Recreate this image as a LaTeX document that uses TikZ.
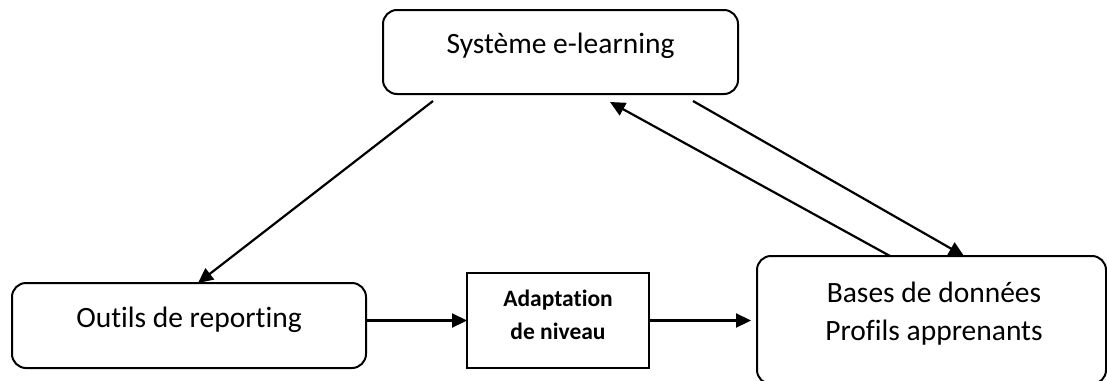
\documentclass[tikz,border=0pt]{standalone}
\usepackage{fontspec}
\setmainfont{Carlito}[Ligatures=NoCommon]
\usetikzlibrary{arrows.meta,calc}
\begin{document}
\begin{tikzpicture}[x=1pt,y=-1pt,
  box/.style={draw, line width=2pt, inner sep=0pt, outer sep=0pt},
  rbox/.style={box, rounded corners=14pt},
  lbl/.style={font=\fontsize{29.5}{39}\selectfont, anchor=base, inner sep=0pt},
  blbl/.style={font=\fontsize{23.5}{35}\selectfont\bfseries, anchor=base, inner sep=0pt},
  arr/.style={line width=2.2pt, -{Triangle[length=15pt,width=14pt]}}]
\path[use as bounding box, clip] (0,0) rectangle (1107,380);
% boxes
\node[rbox, minimum width=355pt, minimum height=84pt] (sys) at (560.5,52) {};
\node[rbox, minimum width=354pt, minimum height=85pt] (out) at (189,325.5) {};
\node[box, minimum width=182pt, minimum height=95pt] (adapt) at (558,320.5) {};
\node[rbox, minimum width=349pt, minimum height=128pt] (base) at (931.5,320) {};
% texts
\node[lbl] (tsys) at ($(sys.center)+(0,1.5)$) {Système e-learning};
\node[lbl] (tout) at ($(out.center)+(0,1.5)$) {Outils de reporting};
\node[blbl] (tad1) at (558,306) {Adaptation};
\node[blbl] (tad2) at (558,339) {de niveau};
\node[lbl] (tb1) at (934,302) {Bases de données};
\node[lbl] (tb2) at (934,340) {Profils apprenants};
% connectors
\draw[arr] ($(sys.south)+(-127.5,7)$) -- ($(out.north)+(9,0)$);
\draw[arr] ($(base.north)+(-41.5,0)$) -- ($(sys.south)+(49.5,8)$);
\draw[arr] ($(sys.south)+(132.5,7)$) -- ($(base.north)+(32.5,0)$);
\draw[arr] (out.east |- adapt.west) -- (adapt.west);
\draw[arr, shorten >=6pt] (adapt.east) -- (base.west |- adapt.east);
\end{tikzpicture}
\end{document}
